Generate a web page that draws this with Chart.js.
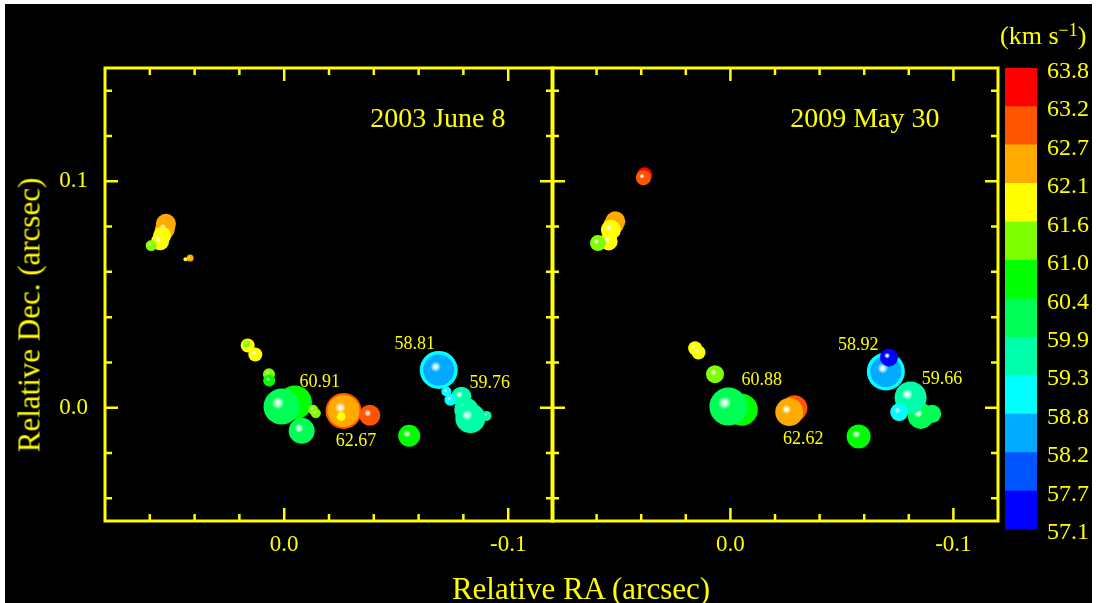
<!DOCTYPE html>
<html>
<head>
<meta charset="utf-8">
<script src="https://cdn.jsdelivr.net/npm/chart.js@4.4.1/dist/chart.umd.min.js"></script>
<style>
  html, body { margin: 0; padding: 0; background: #fff; }
  #wrap { position: relative; width: 1096px; height: 603px; overflow: hidden; background: #fff; }
  #bg { position: absolute; left: 5px; top: 4px; width: 1087px; height: 599px; background: #000; }
  canvas { position: absolute; left: 0; top: 0; }
  .lbl { position: absolute; color: #ffff00; font-family: "Liberation Serif", "Times New Roman", serif; white-space: nowrap; line-height: 1; }
  #ytitle { left: 29px; top: 315px; font-size: 31px; transform: translate(-50%, -50%) rotate(-90deg); }
  #xtitle { left: 581px; top: 588px; font-size: 31px; transform: translate(-50%, -50%); }
  #unit { left: 1000px; top: 23px; font-size: 26px; }
  #unit span { font-size: 18px; position: relative; top: -8px; }
</style>
</head>
<body>
<div id="wrap">
  <div id="bg"></div>
  <canvas id="c2003" width="1096" height="603"></canvas>
  <canvas id="c2009" width="1096" height="603"></canvas>
  <canvas id="cbar" width="1096" height="603"></canvas>
  <div class="lbl" id="ytitle">Relative Dec. (arcsec)</div>
  <div class="lbl" id="xtitle">Relative RA (arcsec)</div>
  <div class="lbl" id="unit">(km s<span>−1</span>)</div>
</div>
<script>
var yellow = "#ffff00";
var serif = '"Liberation Serif", "Times New Roman", serif';

// colour bar, bottom to top (km/s)
var cbarTicks = ["57.1", "57.7", "58.2", "58.8", "59.3", "59.9", "60.4", "61.0", "61.6", "62.1", "62.7", "63.2", "63.8"];
var cbarColors = ["#0000ff", "#0055ff", "#00aaff", "#00ffff", "#00ffaa", "#00ff55",
                  "#00ff00", "#80ff00", "#ffff00", "#ffaa00", "#ff5500", "#ff0000"];
var velMin = 57.1, velMax = 63.8;

// axis ticks (arcsec)
var raMajor = [0.0, -0.1];
var raMajorLabels = ["0.0", "-0.1"];
var raMinor = [0.06, 0.04, 0.02, -0.02, -0.04, -0.06, -0.08];
var decMajor = [0.0, 0.1];
var decMajorLabels = ["0.0", "0.1"];
var decMinor = [-0.04, -0.02, 0.02, 0.04, 0.06, 0.08, 0.12, 0.14];

// 2003 June 8 spots (drawn back to front)
var ra2003 = [0.0528, 0.0533, 0.0545, 0.0554, 0.0594, 0.0420, 0.0441,
              0.0163, 0.0168, 0.0129, 0.0068, 0.0067,
              -0.0048, 0.0012, -0.0078, -0.0129, -0.0141,
              -0.0265, -0.0265, -0.0254, -0.0382, -0.0558,
              -0.0690, -0.0690,
              -0.0903, -0.0791, -0.0813, -0.0831, -0.0724, -0.0742];
var dec2003 = [0.0812, 0.0788, 0.0760, 0.0735, 0.0716, 0.0661, 0.0656,
               0.0275, 0.0282, 0.0235, 0.0148, 0.0120,
               0.0023, 0.0005, -0.0102, -0.0009, -0.0024,
               -0.0014, -0.0014, -0.0039, -0.0033, -0.0124,
               0.0167, 0.0167,
               -0.0036, 0.0049, -0.0009, -0.0046, 0.0072, 0.0035];
var vel2003 = [62.5, 62.3, 61.9, 61.8, 61.4, 62.4, 61.9,
               61.8, 61.2, 61.9, 61.3, 60.8,
               60.91, 60.2, 60.1, 61.2, 61.1,
               63.0, 62.67, 61.9, 63.0, 60.7,
               58.81, 58.5,
               59.7, 59.76, 59.6, 59.5, 59.1, 59.0];
var size2003 = [10, 10, 9, 9, 5.5, 3.5, 2,
                7, 3.5, 7, 6, 6,
                17, 18, 13, 5, 5,
                18, 16, 4.5, 10.5, 11,
                19, 15.5,
                5, 10, 12, 15, 5, 6];
var note2003 = ["60.91", "62.67", "58.81", "59.76"];
var note2003Ra = [-0.0159, -0.0320, -0.0583, -0.0918];
var note2003Dec = [0.0111, -0.0146, 0.0282, 0.0106];

// 2009 May 30 spots (drawn back to front)
var ra2009 = [0.0385, 0.0390, 0.0516, 0.0524, 0.0536, 0.0546, 0.0594,
              0.0158, 0.0143, 0.0069,
              -0.0051, 0.0009, -0.0287, -0.0264, -0.0575,
              -0.0697, -0.0697, -0.0711,
              -0.0905, -0.0854, -0.0808, -0.0757];
var dec2009 = [0.1029, 0.1016, 0.0823, 0.0808, 0.0786, 0.0734, 0.0727,
               0.0263, 0.0244, 0.0148,
               -0.0009, 0.0005, -0.0002, -0.0019, -0.0127,
               0.0160, 0.0160, 0.0222,
               -0.0027, -0.0036, 0.0045, -0.0019];
var vel2009 = [63.5, 63.0, 62.5, 62.3, 61.9, 61.8, 61.3,
               61.9, 61.8, 61.3,
               60.88, 60.2, 63.0, 62.62, 60.7,
               58.92, 58.5, 57.4,
               60.2, 60.1, 59.66, 59.1];
var size2009 = [7.5, 7.5, 10, 10, 10, 9, 8,
                7, 7, 9,
                16, 19, 13, 14, 12,
                19, 15.5, 9,
                9, 13, 16, 9];
var note2009 = ["60.88", "62.62", "58.92", "59.66"];
var note2009Ra = [-0.0141, -0.0327, -0.0573, -0.0949];
var note2009Dec = [0.0120, -0.0139, 0.0278, 0.0126];

function velColor(v) {
  var step = (velMax - velMin) / cbarColors.length;
  var i = Math.floor((v - velMin) / step);
  i = Math.max(0, Math.min(cbarColors.length - 1, i));
  return cbarColors[i];
}

// shaded ball with a small highlight up-left
function sphereFill(c) {
  if (c.type !== "data" || !c.raw) return "transparent";
  var chart = c.chart, d = c.raw;
  var base = velColor(d.v);
  var px = chart.scales.x.getPixelForValue(d.x);
  var py = chart.scales.y.getPixelForValue(d.y);
  if (!isFinite(px) || !isFinite(py)) return base;
  var hx = px - 0.2 * d.r, hy = py - 0.2 * d.r;
  var g = chart.ctx.createRadialGradient(hx, hy, 0, hx, hy, d.r);
  g.addColorStop(0, "#ffffff");
  g.addColorStop(0.07, "#ffffff");
  g.addColorStop(0.35, base);
  g.addColorStop(1, base);
  return g;
}

function labelFor(v, vals, labels) {
  for (var i = 0; i < vals.length; i++) {
    if (Math.abs(v - vals[i]) < 1e-9) return labels[i];
  }
  return "";
}

// frame, inward ticks, velocity notes and epoch title
function makeDeco(notes, noteRa, noteDec, title, titleRa, titleDec) {
  return {
    id: "panelDeco",
    afterDatasetsDraw: function (chart) {
      var ctx = chart.ctx, a = chart.chartArea;
      var x = chart.scales.x, y = chart.scales.y;
      ctx.save();
      ctx.strokeStyle = yellow;
      ctx.lineWidth = 2.5;
      ctx.beginPath();
      function xt(v, len) {
        var p = x.getPixelForValue(v);
        ctx.moveTo(p, a.bottom); ctx.lineTo(p, a.bottom - len);
        ctx.moveTo(p, a.top); ctx.lineTo(p, a.top + len);
      }
      function yt(v, len) {
        var p = y.getPixelForValue(v);
        ctx.moveTo(a.left, p); ctx.lineTo(a.left + len, p);
        ctx.moveTo(a.right, p); ctx.lineTo(a.right - len, p);
      }
      raMajor.forEach(function (v) { xt(v, 13); });
      raMinor.forEach(function (v) { xt(v, 7); });
      decMajor.forEach(function (v) { yt(v, 13); });
      decMinor.forEach(function (v) { yt(v, 7); });
      ctx.stroke();
      ctx.lineWidth = 3;
      ctx.strokeRect(a.left, a.top, a.right - a.left, a.bottom - a.top);

      ctx.fillStyle = yellow;
      ctx.textAlign = "center";
      ctx.textBaseline = "middle";
      ctx.font = "18px " + serif;
      for (var i = 0; i < notes.length; i++) {
        ctx.fillText(notes[i], x.getPixelForValue(noteRa[i]), y.getPixelForValue(noteDec[i]));
      }
      ctx.font = "28px " + serif;
      ctx.fillText(title, x.getPixelForValue(titleRa), y.getPixelForValue(titleDec));
      ctx.restore();
    }
  };
}

function makePanel(id, ra, dec, vel, size, deco, area, showDec) {
  var points = ra.map(function (v, i) {
    return { x: v, y: dec[i], r: size[i], v: vel[i] };
  });
  return new Chart(document.getElementById(id), {
    type: "bubble",
    data: {
      datasets: [{ data: points, backgroundColor: sphereFill, borderWidth: 0, hoverBorderWidth: 0 }]
    },
    options: {
      responsive: false,
      animation: false,
      devicePixelRatio: 1,
      events: [],
      layout: { padding: { left: showDec ? 0 : area.left, right: 1096 - area.right, top: area.top, bottom: 0 } },
      plugins: { legend: { display: false }, tooltip: { enabled: false } },
      scales: {
        x: {
          type: "linear", min: -0.12, max: 0.08, reverse: true,
          grid: { display: false, drawTicks: false },
          border: { display: false },
          ticks: {
            color: yellow, font: { family: serif, size: 23 }, padding: 10, maxRotation: 0,
            callback: function (v) { return labelFor(v, raMajor, raMajorLabels); }
          },
          afterBuildTicks: function (s) { s.ticks = raMajor.map(function (v) { return { value: v }; }); },
          afterFit: function (s) { s.height = 603 - area.bottom; }
        },
        y: {
          type: "linear", min: -0.05, max: 0.15,
          display: showDec,
          grid: { display: false, drawTicks: false },
          border: { display: false },
          ticks: {
            color: yellow, font: { family: serif, size: 23 }, padding: 17,
            callback: function (v) { return labelFor(v, decMajor, decMajorLabels); }
          },
          afterBuildTicks: function (s) { s.ticks = decMajor.map(function (v) { return { value: v }; }); },
          afterFit: function (s) { s.width = showDec ? area.left : 0; }
        }
      }
    },
    plugins: [deco]
  });
}

makePanel("c2003", ra2003, dec2003, vel2003, size2003,
  makeDeco(note2003, note2003Ra, note2003Dec, "2003 June 8", -0.0686, 0.1272),
  { left: 105, right: 553, top: 68, bottom: 521 }, true);

makePanel("c2009", ra2009, dec2009, vel2009, size2009,
  makeDeco(note2009, note2009Ra, note2009Dec, "2009 May 30", -0.0603, 0.1272),
  { left: 552, right: 998, top: 68, bottom: 521 }, false);

// velocity colour bar
new Chart(document.getElementById("cbar"), {
  type: "bar",
  data: {
    labels: [""],
    datasets: cbarColors.map(function (c, i) {
      return { data: [[i, i + 1]], backgroundColor: c, borderWidth: 0, barPercentage: 1, categoryPercentage: 1 };
    })
  },
  options: {
    responsive: false,
    animation: false,
    devicePixelRatio: 1,
    events: [],
    layout: { padding: { left: 1005, top: 68, right: 0, bottom: 603 - 529.5 } },
    plugins: { legend: { display: false }, tooltip: { enabled: false } },
    scales: {
      x: { display: false, stacked: true },
      y: {
        position: "right", min: 0, max: cbarColors.length,
        grid: { display: false, drawTicks: false },
        border: { display: false },
        ticks: {
          stepSize: 1, color: yellow, font: { family: serif, size: 24 }, padding: 10, labelOffset: 3.5,
          callback: function (v) { return cbarTicks[v]; }
        },
        afterFit: function (s) { s.width = 1096 - 1037; }
      }
    }
  }
});
</script>
</body>
</html>
